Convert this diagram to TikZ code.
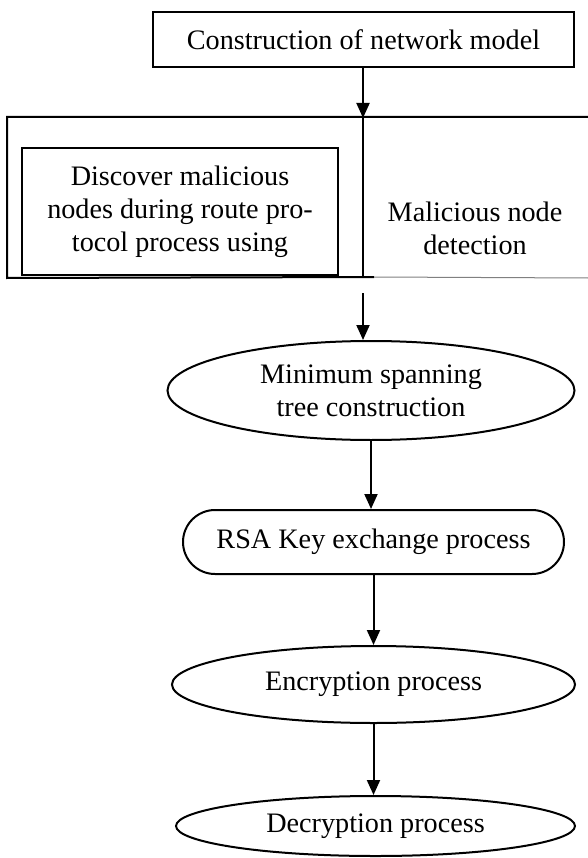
\documentclass[tikz,border=0pt]{standalone}
\usepackage{fontspec}
\setmainfont{Liberation Serif}
\usetikzlibrary{shapes.geometric,arrows.meta}

\begin{document}
\begin{tikzpicture}[x=1pt,y=-1pt,
  line width=2pt,
  every node/.style={font=\fontsize{28.2}{33}\selectfont, align=center},
  boxnode/.style={draw, rectangle, inner sep=0pt},
  oval/.style={draw, ellipse, inner sep=0pt},
  pill/.style={draw, rectangle, rounded corners=32pt, inner sep=0pt},
  arr/.style={-{Triangle[length=15pt,width=13pt]}},
]
\useasboundingbox (0,0) rectangle (587,858);

% first step
\node[boxnode, minimum width=421pt, minimum height=55pt] (top) at (363.5,39.5)
  {Construction of network model};

% detection stage: open frame with an inner box and a caption
\node[inner sep=0pt, minimum width=579pt, minimum height=159pt] (frame) at (297.5,197.5) {};
\node[boxnode, line width=1.6pt, minimum width=316pt, minimum height=127pt] (disc) at (180,211.5)
  {Discover malicious\\nodes during route pro-\\tocol process using};
\node (det) at (475,228) {Malicious node\\detection};
\coordinate (sepTop) at (363,118);
\coordinate (sepBot) at (363,277);
\coordinate (split) at (374,277);
\coordinate (gapTop) at (363,293);

\draw (frame.north east) -- (frame.north west) -- (frame.south west) -- (split);
\draw[gray, line width=1pt] (split) -- (frame.south east);
\draw (sepTop) -- (sepBot);

% remaining steps
\node[oval, minimum width=407pt, minimum height=99pt] (mst) at (371,390.5)
  {Minimum spanning\\tree construction};
\node[pill, minimum width=381pt, minimum height=64pt] (rsa) at (373.5,542)
  {RSA Key exchange process};
\node[oval, minimum width=403pt, minimum height=77pt] (enc) at (373.5,684.5)
  {Encryption process};
\node[oval, minimum width=399pt, minimum height=60pt] (dec) at (375.5,826)
  {Decryption process};

% connectors
\draw[arr] (top.south -| sepTop) -- (sepTop);
\draw[arr] (gapTop) -- (gapTop |- mst.north);
\draw[arr] (mst.south) -- (mst.south |- rsa.north);
\draw[arr] (rsa.south) -- (rsa.south |- enc.north);
\draw[arr] (enc.south) -- (enc.south |- dec.north);
\end{tikzpicture}
\end{document}
